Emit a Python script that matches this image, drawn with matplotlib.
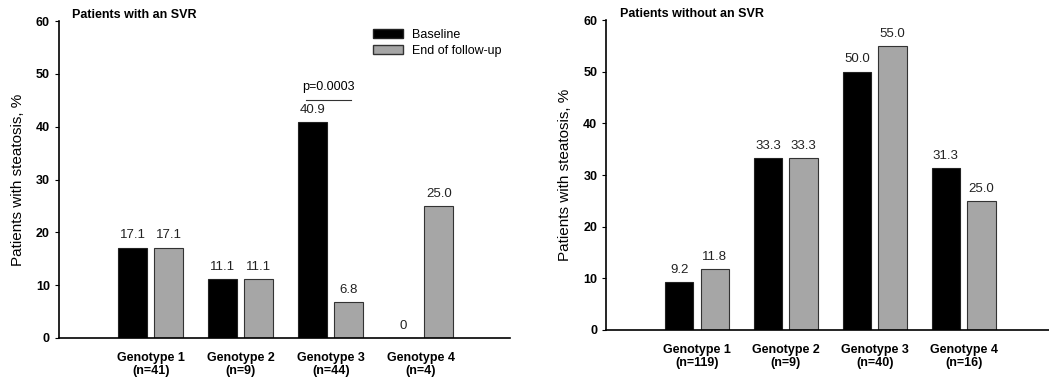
import numpy as np
import matplotlib
matplotlib.use("Agg")
import matplotlib.pyplot as plt
from matplotlib.patches import Patch

plt.rcParams['font.family'] = ['Liberation Sans', 'DejaVu Sans']

genotypes = ["Genotype 1", "Genotype 2", "Genotype 3", "Genotype 4"]

svr_n = [41, 9, 44, 4]
svr_baseline = [17.1, 11.1, 40.9, 0.0]
svr_followup = [17.1, 11.1, 6.8, 25.0]

nosvr_n = [119, 9, 40, 16]
nosvr_baseline = [9.2, 33.3, 50.0, 31.3]
nosvr_followup = [11.8, 33.3, 55.0, 25.0]

BLACK = "#000000"
GRAY = "#a6a6a6"


def fmt(v):
    return "0" if v == 0 else f"{v:.1f}"


def draw_panel(ax, baseline, followup, n, title, xlim):
    x = np.arange(len(genotypes))
    w = 0.32
    off = 0.2
    b1 = ax.bar(x - off, baseline, w, color=BLACK, edgecolor="#222222", linewidth=0.8)
    b2 = ax.bar(x + off, followup, w, color=GRAY, edgecolor="#333333", linewidth=0.8)
    for bars, vals in ((b1, baseline), (b2, followup)):
        for b, v in zip(bars, vals):
            ax.text(b.get_x() + b.get_width() / 2, v + 1.2, fmt(v),
                    ha="center", va="bottom", fontsize=9.5, color="#222222")

    ax.set_ylim(0, 60)
    ax.set_xlim(*xlim)
    ax.set_yticks(range(0, 61, 10))
    ax.set_xticks(x, [f"{g}\n(n={k})" for g, k in zip(genotypes, n)])
    ax.tick_params(axis="x", length=0, pad=10, labelsize=9)
    ax.tick_params(axis="y", length=3, labelsize=9)
    for lab in ax.get_xticklabels() + ax.get_yticklabels():
        lab.set_fontweight("bold")
        lab.set_linespacing(1.1)
    ax.spines["top"].set_visible(False)
    ax.spines["right"].set_visible(False)
    ax.spines["left"].set_linewidth(1.2)
    ax.spines["bottom"].set_linewidth(1.2)
    ax.set_ylabel("Patients with steatosis, %", fontsize=11, labelpad=8)
    ax.text(0.03, 1.0, title, transform=ax.transAxes, fontsize=9,
            fontweight="bold", va="bottom", ha="left")


fig = plt.figure(figsize=(10.49, 3.78), dpi=100)
ax1 = fig.add_axes([0.0562, 0.106, 0.4298, 0.838])
ax2 = fig.add_axes([0.578, 0.127, 0.422, 0.82])

draw_panel(ax1, svr_baseline, svr_followup, svr_n, "Patients with an SVR", (-1.02, 3.99))
draw_panel(ax2, nosvr_baseline, nosvr_followup, nosvr_n, "Patients without an SVR", (-1.02, 3.96))

# significance marker for genotype 3
ax1.plot([1.72, 2.22], [45.0, 45.0], color="#333333", linewidth=0.8)
ax1.text(1.97, 46.4, "p=0.0003", ha="center", va="bottom", fontsize=9)

handles = [Patch(facecolor=BLACK, edgecolor="#222222"),
           Patch(facecolor=GRAY, edgecolor="#333333")]
ax1.legend(handles, ["Baseline", "End of follow-up"], loc="upper left",
           bbox_to_anchor=(0.68, 1.0), frameon=False, fontsize=9,
           handlelength=2.4, handleheight=0.8, handletextpad=0.7,
           labelspacing=0.3, borderaxespad=0.2)

fig.savefig("out.png", dpi=100)
